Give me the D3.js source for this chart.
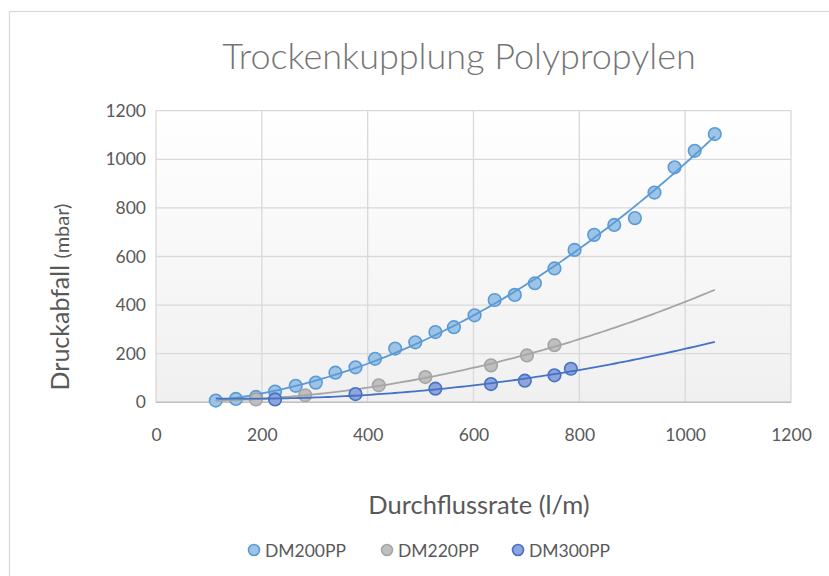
<!DOCTYPE html>
<html>
<head>
<meta charset="utf-8">
<script src="https://cdn.jsdelivr.net/npm/d3@7"></script>
<style>
  html, body { margin: 0; padding: 0; background: #fff; }
  text { font-family: Lato, "Open Sans", sans-serif; }
</style>
</head>
<body>
<svg id="chart" width="829" height="576"></svg>
<script>
// ---------- data ----------
const seriesNames = ["DM200PP", "DM220PP", "DM300PP"];
const dm200x = [113, 151, 189, 225, 264, 302, 339, 377, 414, 452, 490, 528, 563, 602, 640, 678, 716, 753, 791, 828, 866, 905, 942, 980, 1018, 1056];
const dm200y = [7, 14, 22, 44, 68, 81, 122, 144, 179, 221, 247, 289, 309, 358, 421, 442, 490, 551, 627, 689, 730, 758, 863, 967, 1035, 1104];
const dm220x = [189, 282, 421, 509, 633, 701, 753];
const dm220y = [12, 29, 70, 104, 152, 193, 235];
const dm300x = [225, 377, 528, 633, 697, 753, 784];
const dm300y = [12, 34, 56, 75, 89, 111, 138];
const xTicks = [0, 200, 400, 600, 800, 1000, 1200];
const yTicks = [0, 200, 400, 600, 800, 1000, 1200];
const trendRange = [113, 1056];

const fills = ["#9dc3e6", "#bfbfbf", "#8fa3dc"];
const strokes = ["#5b9bd5", "#a5a5a5", "#4472c4"];

// ---------- layout ----------
const svg = d3.select("#chart");
const L = 156, R = 791, T = 110.7, B = 402.3;
const x = d3.scaleLinear().domain([0, 1200]).range([L, R]);
const y = d3.scaleLinear().domain([0, 1200]).range([B, T]);

svg.append("rect").attr("width", 829).attr("height", 576).attr("fill", "#fff");
svg.append("rect").attr("x", 9.5).attr("y", 11.5).attr("width", 900).attr("height", 700)
  .attr("fill", "none").attr("stroke", "#d9d9d9").attr("stroke-width", 1.2);

const defs = svg.append("defs");
const grad = defs.append("linearGradient").attr("id", "bg").attr("x1", 0).attr("y1", 0).attr("x2", 0).attr("y2", 1);
grad.append("stop").attr("offset", "0%").attr("stop-color", "#ffffff");
grad.append("stop").attr("offset", "100%").attr("stop-color", "#f0f0f0");
svg.append("rect").attr("x", L).attr("y", T).attr("width", R - L).attr("height", B - T).attr("fill", "url(#bg)");

// gridlines
svg.append("g").selectAll("line").data(yTicks).join("line")
  .attr("x1", L).attr("x2", R).attr("y1", d => y(d)).attr("y2", d => y(d))
  .attr("stroke", "#d9d9d9").attr("stroke-width", 1.3);
svg.append("g").selectAll("line").data(xTicks).join("line")
  .attr("x1", d => x(d)).attr("x2", d => x(d)).attr("y1", T).attr("y2", B)
  .attr("stroke", "#d9d9d9").attr("stroke-width", 1.3);
svg.append("line").attr("x1", L).attr("x2", R).attr("y1", B).attr("y2", B)
  .attr("stroke", "#bfbfbf").attr("stroke-width", 1.6);

// axes (d3 axes, styled)
const xAxis = svg.append("g").attr("transform", `translate(0,${B})`)
  .call(d3.axisBottom(x).tickValues(xTicks).tickSize(0).tickPadding(26).tickFormat(d3.format("d")));
const yAxis = svg.append("g").attr("transform", `translate(${L},0)`)
  .call(d3.axisLeft(y).tickValues(yTicks).tickSize(0).tickPadding(10).tickFormat(d3.format("d")));
[xAxis, yAxis].forEach(a => {
  a.select(".domain").remove();
  a.selectAll("text").attr("font-size", 17.5).attr("fill", "#595959").attr("font-family", "Lato, sans-serif");
});

// ---------- trendlines (least-squares quadratic, like the spreadsheet trendline) ----------
function polyfit2(xs, ys) {
  const n = xs.length;
  let s = [0, 0, 0, 0, 0], t = [0, 0, 0];
  for (let i = 0; i < n; i++) {
    let p = 1;
    for (let k = 0; k < 5; k++) { s[k] += p; if (k < 3) t[k] += p * ys[i]; p *= xs[i]; }
  }
  const M = [[s[0], s[1], s[2], t[0]], [s[1], s[2], s[3], t[1]], [s[2], s[3], s[4], t[2]]];
  for (let c = 0; c < 3; c++) {
    let piv = c;
    for (let r = c + 1; r < 3; r++) if (Math.abs(M[r][c]) > Math.abs(M[piv][c])) piv = r;
    [M[c], M[piv]] = [M[piv], M[c]];
    for (let r = 0; r < 3; r++) if (r !== c) {
      const f = M[r][c] / M[c][c];
      for (let k = c; k < 4; k++) M[r][k] -= f * M[c][k];
    }
  }
  return [M[0][3] / M[0][0], M[1][3] / M[1][1], M[2][3] / M[2][2]];
}

const series = [
  { xs: dm200x, ys: dm200y },
  { xs: dm220x, ys: dm220y },
  { xs: dm300x, ys: dm300y }
];

const line = d3.line().x(d => x(d[0])).y(d => y(d[1])).curve(d3.curveLinear);
series.forEach((s, i) => {
  const pts = s.xs.map((v, j) => [v, s.ys[j]]);
  svg.append("g").selectAll("circle").data(pts).join("circle")
    .attr("cx", d => x(d[0])).attr("cy", d => y(d[1])).attr("r", 6.3)
    .attr("fill", fills[i]).attr("stroke", strokes[i]).attr("stroke-width", 1.6);
  const c = polyfit2(s.xs, s.ys);
  const f = v => c[0] + c[1] * v + c[2] * v * v;
  const tp = d3.range(trendRange[0], trendRange[1] + 0.1, (trendRange[1] - trendRange[0]) / 120).map(v => [v, f(v)]);
  svg.append("path").attr("d", line(tp)).attr("fill", "none")
    .attr("stroke", strokes[i]).attr("stroke-width", 1.8);
});

// ---------- titles ----------
svg.append("text").attr("x", 459).attr("y", 69).attr("text-anchor", "middle")
  .attr("font-size", 36).attr("fill", "#757575").attr("font-weight", 300)
  .text("Trockenkupplung Polypropylen");

svg.append("text").attr("x", 479).attr("y", 514).attr("text-anchor", "middle")
  .attr("font-size", 25.5).attr("fill", "#595959")
  .text("Durchflussrate (l/m)");

const yt = svg.append("text").attr("transform", "translate(69,297) rotate(-90)")
  .attr("text-anchor", "middle").attr("fill", "#595959");
yt.append("tspan").attr("font-size", 25).text("Druckabfall ");
yt.append("tspan").attr("font-size", 20).text("(mbar)");

// ---------- legend ----------
const legendX = [254, 387, 518];
const lg = svg.append("g").selectAll("g").data(seriesNames).join("g")
  .attr("transform", (d, i) => `translate(${legendX[i]},550)`);
lg.append("circle").attr("r", 5.5).attr("fill", (d, i) => fills[i]).attr("stroke", (d, i) => strokes[i]).attr("stroke-width", 1.6);
lg.append("text").attr("x", 11).attr("y", 6.5).attr("font-size", 17.5).attr("fill", "#595959").text(d => d);
</script>
</body>
</html>
